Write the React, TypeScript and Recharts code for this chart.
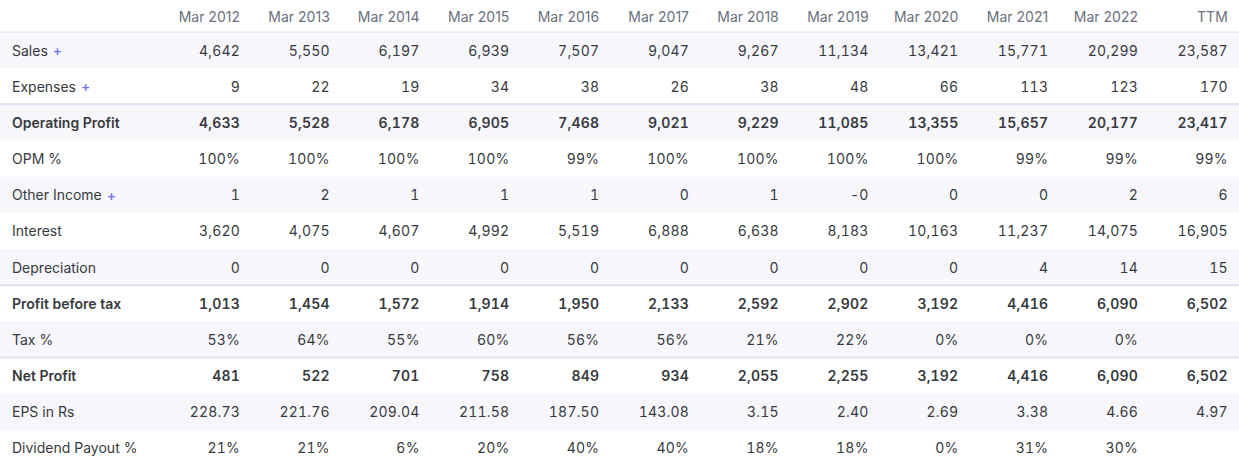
import { ComposedChart, Scatter, XAxis, YAxis, ReferenceArea, ReferenceLine } from "recharts";

// column headers
const periods = ["Mar 2012", "Mar 2013", "Mar 2014", "Mar 2015", "Mar 2016", "Mar 2017", "Mar 2018", "Mar 2019", "Mar 2020", "Mar 2021", "Mar 2022", "TTM"];

const sales = [4642, 5550, 6197, 6939, 7507, 9047, 9267, 11134, 13421, 15771, 20299, 23587];
const expenses = [9, 22, 19, 34, 38, 26, 38, 48, 66, 113, 123, 170];
const operatingProfit = [4633, 5528, 6178, 6905, 7468, 9021, 9229, 11085, 13355, 15657, 20177, 23417];
const opm = [100, 100, 100, 100, 99, 100, 100, 100, 100, 99, 99, 99];
const otherIncome = [1, 2, 1, 1, 1, 0, 1, -0.3, 0, 0, 2, 6];
const interest = [3620, 4075, 4607, 4992, 5519, 6888, 6638, 8183, 10163, 11237, 14075, 16905];
const depreciation = [0, 0, 0, 0, 0, 0, 0, 0, 0, 4, 14, 15];
const profitBeforeTax = [1013, 1454, 1572, 1914, 1950, 2133, 2592, 2902, 3192, 4416, 6090, 6502];
const taxPct = [53, 64, 55, 60, 56, 56, 21, 22, 0, 0, 0, null];
const netProfit = [481, 522, 701, 758, 849, 934, 2055, 2255, 3192, 4416, 6090, 6502];
const eps = [228.73, 221.76, 209.04, 211.58, 187.5, 143.08, 3.15, 2.4, 2.69, 3.38, 4.66, 4.97];
const dividendPayout = [21, 21, 6, 20, 40, 40, 18, 18, 0, 31, 30, null];

type Kind = "num" | "pct" | "dec";
const rows: { label: string; values: (number | null)[]; kind: Kind; bold?: boolean; plus?: boolean }[] = [
  { label: "Sales", values: sales, kind: "num", plus: true },
  { label: "Expenses", values: expenses, kind: "num", plus: true },
  { label: "Operating Profit", values: operatingProfit, kind: "num", bold: true },
  { label: "OPM %", values: opm, kind: "pct" },
  { label: "Other Income", values: otherIncome, kind: "num", plus: true },
  { label: "Interest", values: interest, kind: "num" },
  { label: "Depreciation", values: depreciation, kind: "num" },
  { label: "Profit before tax", values: profitBeforeTax, kind: "num", bold: true },
  { label: "Tax %", values: taxPct, kind: "pct" },
  { label: "Net Profit", values: netProfit, kind: "num", bold: true },
  { label: "EPS in Rs", values: eps, kind: "dec" },
  { label: "Dividend Payout %", values: dividendPayout, kind: "pct" },
];

// thick separators sit above these rows
const sectionStarts = [2, 7, 9];

const intFmt = new Intl.NumberFormat("en-US", { maximumFractionDigits: 0 });
const decFmt = new Intl.NumberFormat("en-US", { minimumFractionDigits: 2, maximumFractionDigits: 2 });

function fmt(v: number | null, kind: Kind) {
  if (v === null) return "";
  if (kind === "pct") return `${intFmt.format(v)}%`;
  if (kind === "dec") return decFmt.format(v);
  return intFmt.format(v);
}

const cells = rows.flatMap((row, r) =>
  row.values.map((v, c) => ({ c, r, text: fmt(v, row.kind), bold: !!row.bold }))
);

const FONT = "Inter, 'Noto Sans', sans-serif";
const TEXT = "#363a40";

const CellText = (props: any) => {
  const { cx, cy, payload } = props;
  return (
    <text
      x={cx}
      y={cy}
      textAnchor="end"
      dominantBaseline="central"
      fontSize={14}
      fontFamily={FONT}
      fill={TEXT}
      fontWeight={payload.bold ? 600 : 400}
      style={{ fontVariantNumeric: "tabular-nums", letterSpacing: 0.2 }}
    >
      {payload.text}
    </text>
  );
};

const HeaderTick = (props: any) => {
  const { x, payload } = props;
  return (
    <text x={x} y={16} textAnchor="end" dominantBaseline="central" fontSize={14} fontFamily={FONT} fill="#68707c">
      {periods[payload.value]}
    </text>
  );
};

const RowTick = (props: any) => {
  const { y, payload } = props;
  const row = rows[payload.value];
  if (!row) return null;
  return (
    <text x={12} y={y} dominantBaseline="central" fontSize={14} fontFamily={FONT} fill={TEXT} fontWeight={row.bold ? 600 : 400}>
      {row.label}
      {row.plus && <tspan fill="#6b6ff0" dx={5} fontWeight={500}>+</tspan>}
    </text>
  );
};

export default function App() {
  return (
    <div style={{ position: "absolute", left: 0, top: 0 }}>
      <ComposedChart width={1239} height={466} data={cells} margin={{ top: 0, right: 0, bottom: 0, left: 0 }}>
        <XAxis
          type="number"
          dataKey="c"
          orientation="top"
          domain={[-2.6726, 11.1247]}
          ticks={periods.map((_, i) => i)}
          interval={0}
          tick={<HeaderTick />}
          axisLine={false}
          tickLine={false}
          height={32}
        />
        <YAxis
          type="number"
          dataKey="r"
          reversed
          mirror
          domain={[-0.5, rows.length - 0.5]}
          ticks={rows.map((_, i) => i)}
          interval={0}
          tick={<RowTick />}
          axisLine={false}
          tickLine={false}
          width={1}
        />
        {rows.map((_, i) =>
          i % 2 === 0 ? (
            <ReferenceArea key={i} y1={i - 0.5} y2={i + 0.5} fill="#f6f6fb" fillOpacity={1} stroke="none" ifOverflow="visible" />
          ) : null
        )}
        <ReferenceLine y={-0.5} stroke="#dbe2f1" strokeWidth={1} />
        {sectionStarts.map((i) => (
          <ReferenceLine key={i} y={i - 0.5} stroke="#dbe2f1" strokeWidth={2} />
        ))}
        <Scatter dataKey="r" shape={<CellText />} isAnimationActive={false} />
      </ComposedChart>
    </div>
  );
}
